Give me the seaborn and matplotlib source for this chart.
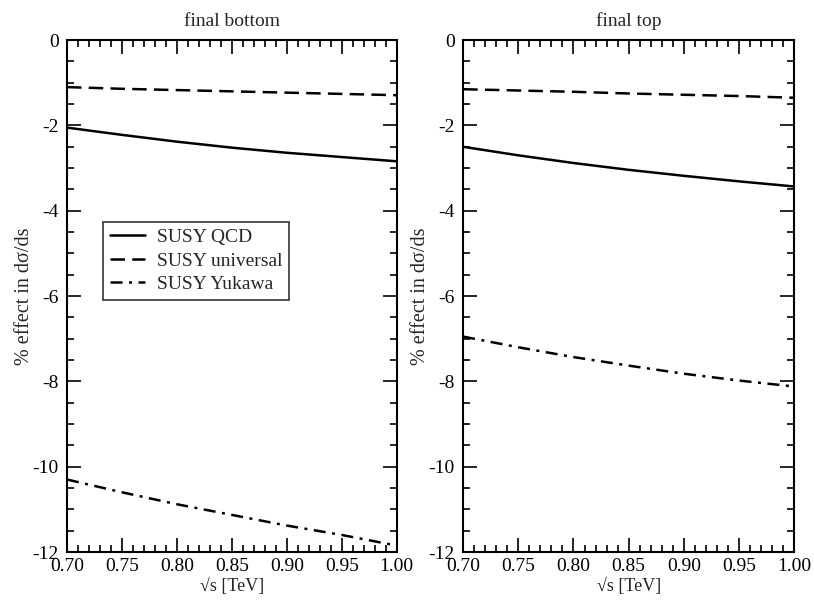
import matplotlib
matplotlib.use("Agg")
import matplotlib.pyplot as plt
import pandas as pd
import seaborn as sns
from matplotlib.ticker import MultipleLocator, FormatStrFormatter

sqrt_s = [0.70, 0.75, 0.80, 0.85, 0.90, 0.95, 1.00]
series_names = ["SUSY QCD", "SUSY universal", "SUSY Yukawa"]

bottom_qcd = [-2.05, -2.22, -2.38, -2.52, -2.64, -2.74, -2.84]
bottom_universal = [-1.10, -1.14, -1.17, -1.20, -1.23, -1.26, -1.29]
bottom_yukawa = [-10.30, -10.60, -10.88, -11.13, -11.38, -11.60, -11.85]

top_qcd = [-2.50, -2.70, -2.88, -3.04, -3.18, -3.31, -3.43]
top_universal = [-1.15, -1.18, -1.21, -1.25, -1.28, -1.31, -1.35]
top_yukawa = [-6.95, -7.20, -7.43, -7.63, -7.82, -7.98, -8.12]

panel_titles = ["final bottom", "final top"]


def long_frame(qcd, universal, yukawa):
    rows = []
    for name, values in zip(series_names, [qcd, universal, yukawa]):
        for x, y in zip(sqrt_s, values):
            rows.append({"sqrt_s": x, "effect": y, "curve": name})
    return pd.DataFrame(rows)


frames = [
    long_frame(bottom_qcd, bottom_universal, bottom_yukawa),
    long_frame(top_qcd, top_universal, top_yukawa),
]

sns.set_style("ticks")
plt.rcParams["font.family"] = ["Liberation Serif", "DejaVu Serif"]
plt.rcParams["axes.unicode_minus"] = False

fig = plt.figure(figsize=(8.14, 6.05), dpi=100)
axes = [
    fig.add_axes([0.0823, 0.0876, 0.405, 0.846]),
    fig.add_axes([0.569, 0.0876, 0.4066, 0.846]),
]

dash_styles = ["", (5.8, 2.9), (4.8, 2.6, 1.2, 2.6)]

for i, (ax, frame, title) in enumerate(zip(axes, frames, panel_titles)):
    sns.lineplot(
        data=frame,
        x="sqrt_s",
        y="effect",
        style="curve",
        style_order=series_names,
        dashes=dash_styles,
        color="black",
        linewidth=1.8,
        ax=ax,
        legend=(i == 0),
    )
    ax.set_xlim(0.70, 1.00)
    ax.set_ylim(-12, 0)
    ax.xaxis.set_major_locator(MultipleLocator(0.05))
    ax.xaxis.set_minor_locator(MultipleLocator(0.01))
    ax.yaxis.set_major_locator(MultipleLocator(2))
    ax.yaxis.set_minor_locator(MultipleLocator(0.5))
    ax.xaxis.set_major_formatter(FormatStrFormatter("%.2f"))
    ax.tick_params(which="both", direction="in", top=True, right=True, labelsize=14, width=1.2, colors="black")
    ax.tick_params(which="major", length=10)
    ax.tick_params(which="minor", length=5)
    ax.tick_params(axis="x", which="major", pad=4)
    ax.tick_params(axis="y", which="major", pad=6)
    for spine in ax.spines.values():
        spine.set_linewidth(1.5)
        spine.set_color("black")
    ax.set_title(title, fontsize=14, pad=10)
    ax.set_xlabel("√s [TeV]", fontsize=13, labelpad=2)
    ax.set_ylabel("% effect in dσ/ds", fontsize=14.5, labelpad=-1)

leg = axes[0].legend(
    loc="upper left",
    bbox_to_anchor=(0.11, 0.645),
    borderaxespad=0,
    fontsize=14,
    frameon=True,
    fancybox=False,
    handlelength=1.8,
    handletextpad=0.6,
    borderpad=0.35,
    labelspacing=0.3,
    title=None,
)
leg.get_frame().set_edgecolor("black")
leg.get_frame().set_linewidth(1.2)

fig.savefig("out.png", dpi=100)
